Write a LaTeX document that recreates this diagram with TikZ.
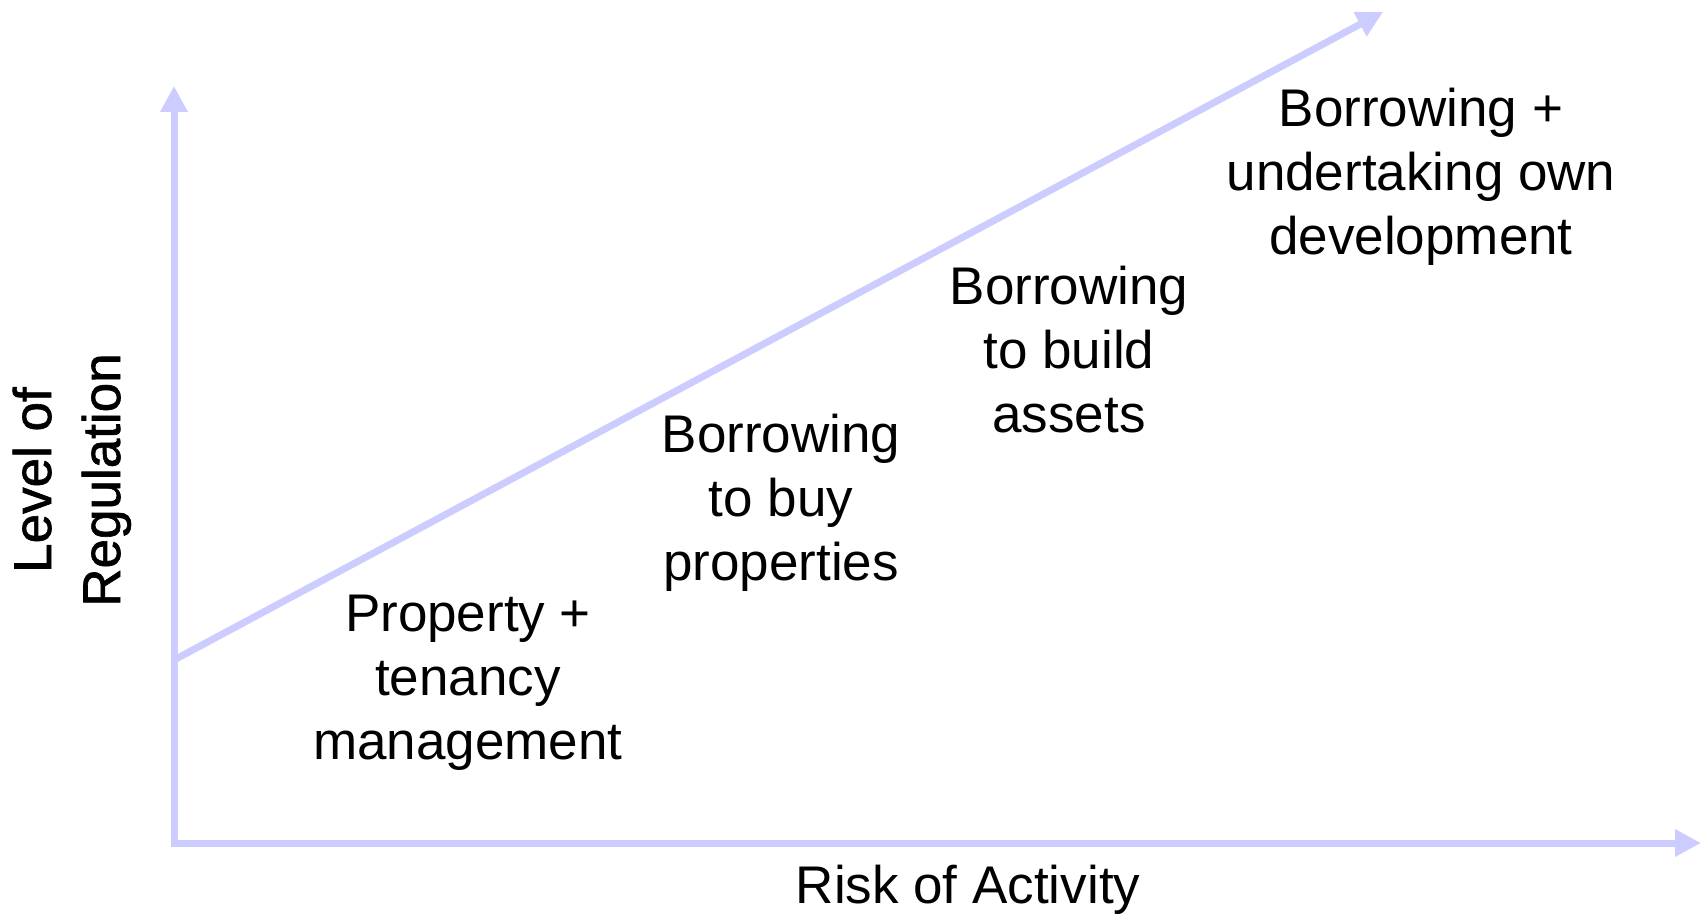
\documentclass[tikz,border=0pt]{standalone}
\usepackage{fontspec}
\setmainfont{Liberation Sans}
\newfontfamily\ylfont{Liberation Sans}[FakeBold=1.2]
\usetikzlibrary{arrows.meta}
\definecolor{axiscol}{RGB}{204,204,255}
\begin{document}
\begin{tikzpicture}[x=1pt,y=1pt,
  axisline/.style={draw=axiscol,line width=7pt,-{Triangle[length=26pt,width=26pt]}},
  lbl/.style={align=center,font=\fontsize{53}{64}\selectfont,inner sep=0pt},
  ylbl/.style={font=\ylfont\fontsize{53}{64}\selectfont,inner sep=0pt,rotate=90,anchor=base}]
\useasboundingbox (0,0) rectangle (1707,913);
\coordinate (o) at (174,70);
\coordinate (ytop) at (174,827);
\coordinate (xend) at (1701,70);
\coordinate (dstart) at (174,253);
\coordinate (dend) at (1383,901);
\draw[axisline] (174,66.5) -- (ytop);
\draw[axisline] (170.5,70) -- (xend);
\draw[axisline] (dstart) -- (dend);
\node[lbl] (t1) at (1421,736) {Borrowing +\\undertaking own\\development};
\node[lbl] (t2) at (1069,563) {Borrowing\\to build\\assets};
\node[lbl] (t3) at (781,410) {Borrowing\\to buy\\properties};
\node[lbl] (t4) at (468,230) {Property +\\tenancy\\management};
\node[lbl] (xl) at (968,23) {Risk of Activity};
\node[ylbl] (yl1) at (51,433) {Level of};
\node[ylbl] (yl2) at (120,433) {Regulation};
\end{tikzpicture}
\end{document}
